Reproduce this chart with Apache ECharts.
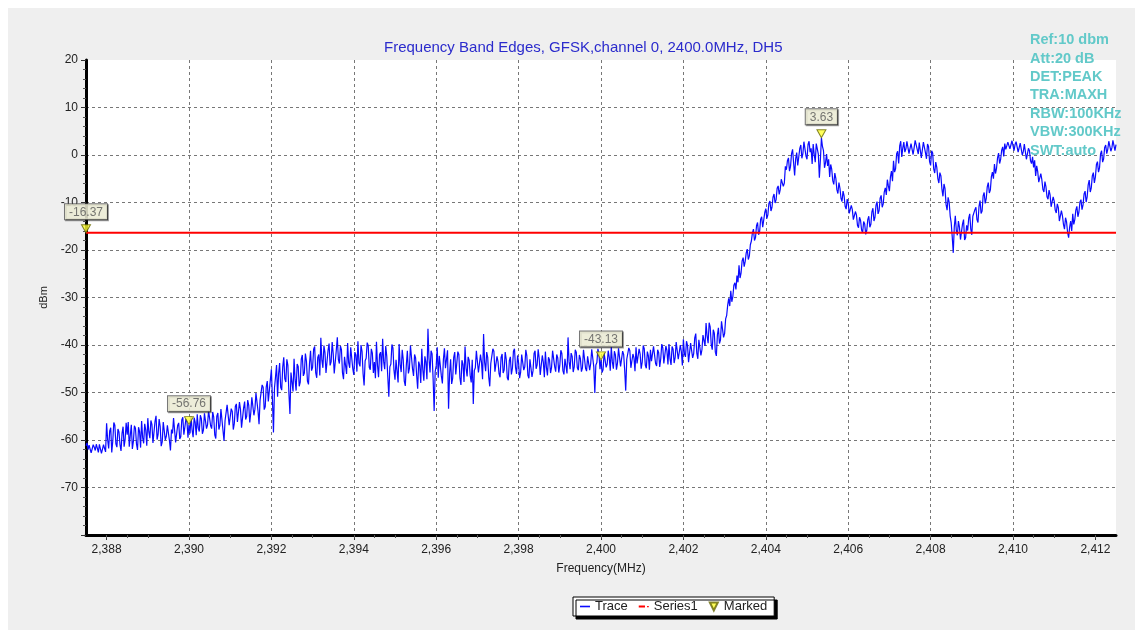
<!DOCTYPE html>
<html>
<head>
<meta charset="utf-8">
<script src="https://cdn.jsdelivr.net/npm/echarts@6/dist/echarts.min.js"></script>
<style>
  html, body { margin: 0; padding: 0; background: #fff; }
  #chart { width: 1143px; height: 638px; }
</style>
</head>
<body>
<div id="chart"></div>
<script>
// sweep: 2387.5 .. 2412.5 MHz, one point every 0.025 MHz
const startMHz = 2387.5;
const stepMHz = 0.025;

// trace level (dBm), 40 points per MHz, row start freq in comment
const traceDbm = [
  // 2387.5
  -61.2, -60.6, -62.0, -61.1, -60.8, -62.7, -62.4, -61.0, -61.5, -62.2,
  -60.9, -61.7, -62.6, -60.9, -61.3, -62.8, -61.9, -61.0, -60.7, -62.5,
  -56.5, -59.9, -61.8, -58.1, -57.4, -62.6, -60.2, -56.3, -56.9, -60.8,
  -61.5, -57.7, -58.3, -61.0, -62.3, -58.6, -57.2, -61.4, -59.8, -56.4,
  // 2388.5
  -58.9, -56.2, -61.4, -59.0, -56.8, -61.9, -60.3, -57.0, -57.5, -60.8,
  -62.1, -57.3, -58.2, -61.6, -56.0, -59.5, -60.7, -56.6, -57.9, -61.2,
  -55.4, -58.3, -59.6, -55.9, -56.7, -60.6, -61.0, -56.1, -54.9, -59.9,
  -58.8, -55.6, -57.1, -61.3, -60.4, -56.2, -55.8, -60.0, -59.2, -56.9,
  // 2389.5
  -57.3, -60.1, -62.2, -57.8, -58.6, -55.4, -55.7, -60.5, -60.1, -56.9,
  -56.4, -59.8, -59.3, -55.8, -55.2, -58.9, -58.7, -55.6, -56.1, -59.5,
  -56.8, -58.6, -55.0, -57.9, -59.4, -55.3, -56.3, -59.0, -54.6, -57.5,
  -58.2, -54.8, -55.5, -58.7, -57.9, -54.4, -54.1, -57.6, -56.8, -53.8,
  // 2390.5
  -53.9, -57.0, -57.6, -54.1, -55.2, -58.9, -59.7, -55.0, -54.3, -57.8,
  -56.9, -53.5, -53.1, -58.0, -60.2, -55.9, -55.6, -52.6, -52.8, -56.9,
  -57.3, -53.4, -54.0, -57.8, -56.5, -52.9, -52.4, -56.2, -55.8, -52.0,
  -53.6, -57.4, -57.1, -53.3, -51.9, -55.7, -55.0, -51.6, -52.7, -56.3,
  // 2391.5
  -54.2, -51.0, -50.6, -54.8, -53.5, -50.1, -49.8, -53.9, -56.7, -51.6,
  -51.3, -48.4, -48.9, -53.6, -53.0, -48.8, -47.6, -51.9, -52.2, -47.3,
  -45.1, -51.5, -58.4, -49.0, -46.7, -44.2, -50.9, -46.0, -43.8, -48.9,
  -49.5, -44.6, -42.6, -47.1, -47.8, -43.0, -44.3, -50.2, -54.5, -45.8,
  // 2392.5
  -46.2, -49.8, -42.9, -47.3, -49.6, -44.0, -44.5, -48.7, -47.8, -43.0,
  -42.1, -46.5, -45.9, -41.8, -43.4, -47.6, -48.3, -43.9, -41.2, -45.4,
  -44.7, -40.9, -40.3, -45.8, -46.9, -42.6, -42.0, -46.4, -38.5, -43.2,
  -44.8, -40.1, -41.6, -45.9, -46.1, -41.1, -39.7, -44.3, -43.5, -39.4,
  // 2393.5
  -41.8, -46.0, -45.6, -41.1, -38.4, -43.0, -43.9, -40.2, -41.0, -45.8,
  -47.2, -42.5, -42.3, -46.1, -39.6, -43.7, -44.8, -40.5, -40.9, -45.0,
  -46.3, -41.5, -42.1, -45.6, -39.2, -43.8, -44.5, -40.0, -41.4, -46.0,
  -48.5, -43.3, -42.8, -39.5, -40.1, -44.7, -45.2, -40.8, -41.7, -45.9,
  // 2394.5
  -43.6, -47.0, -39.3, -44.2, -46.8, -42.0, -41.5, -45.5, -38.7, -43.5,
  -45.1, -40.2, -42.4, -46.7, -50.9, -44.6, -44.0, -39.9, -40.6, -45.3,
  -47.3, -43.1, -42.9, -47.9, -39.8, -44.1, -45.7, -41.0, -43.1, -47.6,
  -48.6, -44.2, -41.2, -46.0, -44.9, -40.1, -40.4, -45.0, -46.5, -42.0,
  // 2395.5
  -42.7, -46.3, -49.2, -43.5, -44.3, -48.0, -40.8, -45.2, -47.5, -42.4,
  -43.6, -47.2, -36.6, -42.8, -45.8, -41.2, -41.9, -47.1, -53.9, -45.6,
  -44.4, -40.5, -46.9, -42.3, -42.2, -46.5, -48.1, -43.0, -40.7, -44.9,
  -45.3, -41.1, -53.4, -46.0, -43.0, -48.2, -47.0, -42.6, -41.5, -46.2,
  // 2396.5
  -45.9, -41.4, -42.0, -46.9, -48.4, -43.2, -44.1, -47.8, -40.3, -44.9,
  -46.6, -42.5, -43.2, -46.4, -47.9, -43.1, -52.4, -45.4, -44.8, -41.2,
  -41.6, -45.8, -46.2, -42.0, -43.7, -47.2, -37.7, -43.6, -45.5, -41.5,
  -42.6, -46.7, -48.7, -43.9, -44.0, -40.8, -41.3, -45.6, -46.0, -42.4,
  // 2397.5
  -43.5, -46.0, -46.8, -42.6, -41.9, -45.9, -45.2, -41.5, -43.0, -46.9,
  -47.4, -43.3, -42.5, -46.2, -44.9, -41.3, -40.8, -44.7, -46.1, -42.2,
  -43.8, -47.0, -45.7, -42.0, -41.6, -45.3, -44.6, -41.0, -42.3, -46.4,
  -47.0, -43.0, -43.4, -46.7, -45.4, -41.8, -41.2, -45.0, -44.2, -40.9,
  // 2398.5
  -42.8, -46.3, -45.9, -42.2, -43.6, -46.8, -41.4, -44.7, -46.4, -42.6,
  -43.1, -45.9, -44.7, -41.2, -40.9, -44.5, -45.6, -42.0, -42.7, -45.8,
  -44.3, -41.1, -41.8, -45.4, -46.2, -42.9, -43.3, -46.0, -38.4, -43.5,
  -45.1, -41.7, -42.4, -45.7, -44.6, -41.0, -41.5, -44.8, -45.3, -42.1,
  // 2399.5
  -42.9, -45.6, -44.8, -41.0, -41.3, -44.9, -45.5, -42.4, -42.2, -45.3,
  -43.9, -40.9, -40.6, -44.6, -50.1, -44.2, -43.7, -40.8, -41.8, -45.1,
  -43.1, -45.8, -45.2, -41.7, -41.5, -44.7, -44.0, -41.2, -42.6, -45.4,
  -40.4, -43.5, -45.0, -41.3, -42.1, -45.2, -43.8, -40.7, -41.1, -44.5,
  // 2400.5
  -44.6, -41.3, -42.0, -45.3, -49.6, -43.0, -43.4, -40.6, -41.2, -44.8,
  -45.1, -41.9, -42.7, -45.5, -40.5, -43.9, -44.3, -40.8, -41.9, -45.0,
  -43.6, -40.1, -40.8, -44.2, -44.9, -41.4, -42.3, -45.2, -41.0, -43.4,
  -43.8, -40.3, -40.2, -43.9, -44.4, -41.0, -41.6, -44.6, -42.9, -39.8,
  // 2401.5
  -40.6, -43.9, -43.7, -40.2, -41.2, -44.1, -39.8, -42.9, -44.2, -40.3,
  -40.9, -43.8, -42.6, -39.4, -39.3, -43.0, -43.1, -40.0, -41.4, -44.3,
  -38.8, -41.9, -42.5, -39.2, -40.1, -43.6, -43.4, -39.6, -39.5, -42.7,
  -41.8, -38.5, -37.6, -41.7, -42.9, -38.9, -39.2, -42.2, -41.0, -37.9,
  // 2402.5
  -37.8, -40.2, -35.4, -38.1, -39.6, -35.3, -36.2, -39.8, -41.0, -36.8,
  -37.5, -41.5, -42.3, -37.9, -36.4, -39.7, -38.9, -35.0, -34.7, -38.4,
  -37.6, -34.5, -33.8, -31.6, -30.2, -31.8, -28.6, -30.9, -29.8, -27.4,
  -26.9, -28.3, -25.4, -26.8, -23.2, -25.9, -24.8, -22.3, -21.6, -23.5,
  // 2403.5
  -22.4, -20.6, -19.8, -22.0, -21.3, -18.9, -18.1, -16.4, -15.6, -18.0,
  -17.4, -14.9, -14.2, -16.8, -16.1, -13.5, -13.0, -15.2, -14.8, -12.1,
  -11.3, -13.4, -12.6, -10.2, -9.7, -11.8, -11.0, -8.9, -8.2, -10.1,
  -9.4, -7.0, -6.5, -8.3, -7.3, -5.1, -4.8, -6.6, -5.9, -2.4,
  // 2404.5
  -3.1, -1.2, -0.6, -3.4, -2.4, 0.3, 1.2, -1.7, -4.3, -0.8,
  0.5, -2.2, -1.8, 1.4, 2.1, -0.7, 0.3, 2.8, 2.6, -0.2,
  -0.9, 2.2, 2.9, 0.6, 1.4, -1.9, 2.3, 0.1, -1.5, 2.4,
  2.8, 0.2, -4.8, -1.0, 3.63, 1.8, 0.9, -2.7, -1.6, 0.2,
  // 2405.5
  -2.3, -0.9, -4.6, -2.0, -3.0, -5.4, -6.2, -3.8, -4.9, -7.3,
  -8.1, -5.8, -7.0, -9.1, -9.8, -7.6, -8.6, -10.8, -11.4, -9.3,
  -10.1, -12.3, -12.7, -10.6, -11.5, -13.6, -14.0, -11.9, -12.6, -14.8,
  -15.3, -13.1, -13.8, -15.8, -16.4, -14.0, -14.5, -16.7, -15.9, -13.6,
  // 2406.5
  -12.9, -15.2, -14.6, -12.0, -11.2, -13.9, -13.1, -10.6, -9.8, -12.4,
  -11.7, -9.1, -8.5, -11.0, -10.3, -7.8, -6.9, -8.4, -5.2, -6.5,
  -7.6, -4.6, -3.4, -5.5, -1.2, -3.6, -2.9, 0.2, 0.8, -1.8,
  1.9, 2.9, -0.4, 1.5, 2.7, 0.6, 1.3, 2.9, 2.5, 0.3,
  // 2407.5
  0.6, 2.4, 2.8, 0.1, 1.5, 3.1, 3.0, 1.2, 0.2, 2.6,
  2.4, -0.6, 1.1, 2.7, 2.9, 0.5, -0.8, 2.3, 1.8, -1.4,
  -2.2, 0.9, 0.4, -2.9, -3.8, -1.5, -2.6, -4.9, -5.9, -3.7,
  -4.4, -7.2, -8.7, -6.1, -7.1, -10.4, -11.6, -8.9, -9.9, -12.8,
  // 2408.5
  -14.3, -17.2, -20.6, -15.1, -12.8, -16.0, -16.9, -13.9, -15.2, -17.8,
  -18.1, -14.5, -13.6, -17.9, -17.4, -14.8, -15.9, -13.3, -12.4, -15.6,
  -16.8, -12.9, -13.1, -11.5, -11.0, -13.6, -14.2, -10.8, -9.6, -12.3,
  -11.8, -8.6, -7.9, -10.2, -9.2, -6.7, -5.8, -8.0, -7.4, -4.6,
  // 2409.5
  -3.6, -5.0, -1.9, -3.9, -2.8, -0.6, 0.4, -1.8, -0.9, 1.0,
  1.7, -0.3, 2.4, 1.2, 0.8, 2.7, 3.1, 1.3, 1.6, 3.0,
  2.9, 0.9, 2.2, 2.8, 3.0, 0.6, 1.0, 2.5, 2.6, 0.0,
  0.7, 2.3, 2.1, -0.9, -0.5, 1.4, 0.9, -1.2, -1.8, -0.4,
  // 2410.5
  -2.6, -1.1, -4.4, -2.3, -3.5, -5.7, -6.1, -3.9, -5.2, -7.2,
  -7.8, -5.6, -6.7, -8.8, -9.3, -7.4, -8.4, -10.9, -10.6, -8.8,
  -9.7, -11.6, -12.2, -10.3, -11.1, -13.9, -13.5, -11.7, -12.8, -14.6,
  -15.6, -13.2, -14.1, -16.3, -17.4, -15.2, -13.9, -16.0, -12.4, -14.6,
  // 2411.5
  -13.6, -11.6, -10.8, -13.0, -12.0, -9.9, -9.4, -11.5, -10.5, -8.2,
  -7.6, -9.9, -8.8, -6.3, -5.3, -7.8, -6.9, -4.4, -3.7, -5.9,
  -4.6, -2.0, -1.4, -3.6, -2.7, 0.2, 0.9, -1.5, -0.8, 1.6,
  2.1, 0.3, 1.2, 2.9, 3.0, 0.8, 1.5, 3.1, 2.7, 0.9,
  // 2412.5
  2.2
];

const limitDbm = -16.37;
const spanMHz = [2387.5, 2412.5];

const markedFreq = [2387.5, 2390, 2400, 2405.35];
const markedDbm = [-16.37, -56.76, -43.13, 3.63];

const freqTicks = [2388, 2390, 2392, 2394, 2396, 2398, 2400, 2402, 2404, 2406, 2408, 2410, 2412];

const analyzerInfo = ['Ref:10 dbm', 'Att:20 dB', 'DET:PEAK', 'TRA:MAXH', 'RBW:100KHz', 'VBW:300KHz', 'SWT:auto'];

const titleText = 'Frequency Band Edges, GFSK,channel 0, 2400.0MHz, DH5';

const font = '"Liberation Sans", Arial, sans-serif';

const traceData = traceDbm.map((v, i) => [+(startMHz + i * stepMHz).toFixed(3), v]);
const limitData = spanMHz.map(f => [f, limitDbm]);
const markedData = markedFreq.map((f, i) => [f, markedDbm[i]]);

const chart = echarts.init(document.getElementById('chart'), null, { renderer: 'canvas' });

const option = {
  animation: false,
  backgroundColor: '#fff',
  textStyle: { fontFamily: font },
  title: {
    text: titleText,
    left: 379,
    top: 35,
    textStyle: { fontSize: 15, fontWeight: 'normal', color: '#2b2bcc', fontFamily: font }
  },
  graphic: [
    {
      type: 'rect', z: -10, silent: true,
      shape: { x: 8, y: 8, width: 1127, height: 622 },
      style: { fill: '#efefef' }
    },
    {
      type: 'text', z: 100, silent: true,
      left: 1030, top: 31,
      style: {
        text: analyzerInfo.join('\n'),
        font: 'bold 14.5px ' + font,
        fill: '#62c9c9',
        lineHeight: 18.4
      }
    }
  ],
  legend: {
    left: 573,
    top: 597,
    backgroundColor: '#fff',
    borderColor: '#000',
    borderWidth: 1,
    shadowColor: '#000',
    shadowOffsetX: 3,
    shadowOffsetY: 3,
    shadowBlur: 0,
    padding: [3, 7],
    itemGap: 11,
    itemWidth: 10,
    itemHeight: 8,
    textStyle: { fontSize: 13, color: '#222', fontFamily: font },
    data: [
      { name: 'Trace', icon: 'path://M0,4 h10 v1.6 h-10 Z' },
      { name: 'Series1', icon: 'path://M0,4 h6 v2 h-6 Z M8,4.4 h1.6 v1.2 h-1.6 Z' },
      { name: 'Marked', icon: 'path://M0,0 h8 l-4,8 Z' }
    ]
  },
  grid: {
    left: 86,
    right: 27,
    top: 60,
    bottom: 103,
    show: true,
    backgroundColor: '#fff',
    borderWidth: 0
  },
  xAxis: {
    type: 'value',
    min: spanMHz[0],
    max: spanMHz[1],
    interval: 2,
    name: 'Frequency(MHz)',
    nameLocation: 'middle',
    nameGap: 28,
    nameTextStyle: { fontSize: 12, color: '#222', fontFamily: font },
    axisLine: { show: true, onZero: false, lineStyle: { color: '#000', width: 3 } },
    axisTick: { show: true, length: 5, customValues: freqTicks, lineStyle: { color: '#333' } },
    minorTick: { show: true, splitNumber: 4, length: 3, lineStyle: { color: '#555' } },
    axisLabel: {
      customValues: freqTicks,
      margin: 9,
      fontSize: 12,
      color: '#222',
      fontFamily: font,
      formatter: v => v.toLocaleString('en-US')
    },
    splitLine: {
      show: true,
      showMinLine: false,
      showMaxLine: false,
      lineStyle: { color: '#777', type: [3, 3], width: 1 }
    }
  },
  yAxis: {
    type: 'value',
    min: -80,
    max: 20,
    interval: 10,
    name: 'dBm',
    nameLocation: 'middle',
    nameRotate: 90,
    nameGap: 33,
    nameTextStyle: { fontSize: 11, color: '#222', fontFamily: font },
    axisLine: { show: true, onZero: false, lineStyle: { color: '#000', width: 3 } },
    axisTick: { show: true, length: 5, lineStyle: { color: '#333' } },
    minorTick: { show: true, splitNumber: 5, length: 3, lineStyle: { color: '#555' } },
    axisLabel: { showMinLabel: false, margin: 8, fontSize: 12, color: '#222', fontFamily: font },
    splitLine: {
      show: true,
      showMinLine: false,
      showMaxLine: false,
      lineStyle: { color: '#777', type: [3, 3], width: 1 }
    }
  },
  series: [
    {
      name: 'Trace',
      type: 'line',
      data: traceData,
      showSymbol: false,
      symbol: 'none',
      sampling: false,
      lineStyle: { color: '#0a0aff', width: 1.2 },
      itemStyle: { color: '#0a0aff' },
      z: 3
    },
    {
      name: 'Series1',
      type: 'line',
      data: limitData,
      showSymbol: false,
      symbol: 'none',
      lineStyle: { color: '#ff0000', width: 2 },
      itemStyle: { color: '#ff0000' },
      z: 4
    },
    {
      name: 'Marked',
      type: 'scatter',
      data: markedData,
      clip: false,
      symbol: 'triangle',
      symbolRotate: 180,
      symbolSize: [9, 8],
      symbolOffset: [0, -4],
      itemStyle: { color: '#ffff33', borderColor: '#666600', borderWidth: 1 },
      label: {
        show: true,
        position: 'top',
        distance: 5,
        formatter: p => p.value[1].toFixed(2),
        fontSize: 12,
        color: '#555',
        fontFamily: font,
        backgroundColor: '#ffffe6',
        borderColor: '#555',
        borderWidth: 1,
        padding: [2, 4, 1, 4],
        shadowColor: 'rgba(0,0,0,0.45)',
        shadowOffsetX: 1,
        shadowOffsetY: 1,
        shadowBlur: 0
      },
      z: 6
    }
  ]
};

chart.setOption(option);
</script>
</body>
</html>
